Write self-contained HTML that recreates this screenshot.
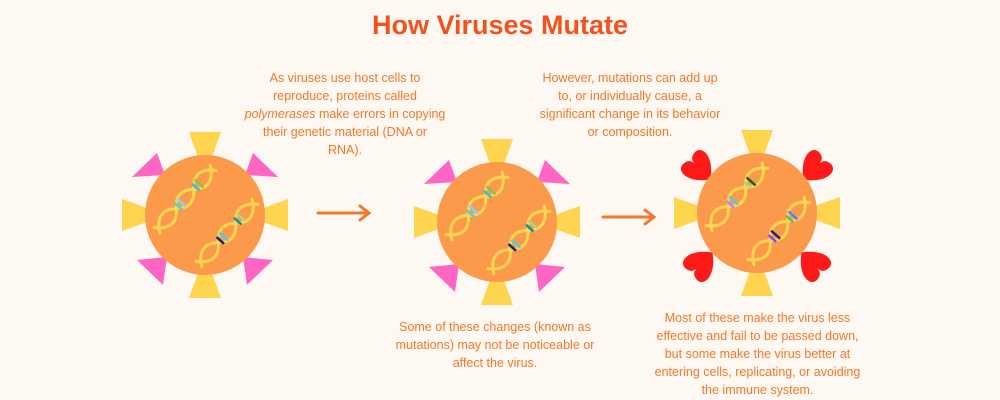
<!DOCTYPE html>
<html><head><meta charset="utf-8"><style>
body{margin:0;width:1000px;height:400px;background:#fdf8f2;overflow:hidden;position:relative;font-family:"Liberation Sans",sans-serif}
.t{position:absolute;color:#f4782a;font-size:12.5px;line-height:18px;text-align:center;white-space:nowrap}
h1{position:absolute;top:10px;left:0;width:1000px;margin:0;text-align:center;color:#f4511e;font-size:27px;font-weight:bold}
svg{position:absolute;left:0;top:0}
</style></head><body>
<svg width="1000" height="400">
<defs>
<g id="dna" fill="none" stroke="#ffd54f" stroke-width="3" stroke-linecap="round">
<path d="M-42,4 Q-39,0 -39,0 Q-26,-14 -13,0 T13,0 T39,0 L42,-4"/>
<path d="M-42,-4 L-39,0 Q-26,14 -13,0 T13,0 T39,0 L42,4"/>
</g>
<g id="virus">
<polygon points="-16,-83 16,-83 7,-58 -7,-58" fill="#ffd54f"/>
<polygon points="-16,83 16,83 7,58 -7,58" fill="#ffd54f"/>
<polygon points="-83,-16 -83,16 -58,7 -58,-7" fill="#ffd54f"/>
<polygon points="83,-16 83,16 58,7 58,-7" fill="#ffd54f"/>
<circle r="60" fill="#fb9a4a"/>
</g>
<g id="pinks" fill="#ff66c4">
<polygon points="-73,-38 -48,-62 -40,-40"/><polygon points="73,-38 48,-62 40,-40"/>
<polygon points="-68,45 -42,70 -38,42"/><polygon points="68,45 42,70 38,42"/>
</g>
<g id="hearts" fill="#ff1a1a">
<path d="M0,8 C-14,-2 -12,-14 -4,-12 C0,-11 0,-8 0,-6 C0,-8 0,-11 4,-12 C12,-14 14,-2 0,8Z" transform="scale(1.5)"/>
</g>
<g id="h1">
<g transform="translate(-20,-16) rotate(-48)"><use href="#dna"/>
<g stroke-width="2.5"><line x1="-10" y1="-5" x2="-10" y2="5" stroke="#4dd0e1"/>
<line x1="-5" y1="-6" x2="-5" y2="6" stroke="#81d4fa"/>
<line x1="16" y1="-5" x2="16" y2="5" stroke="#26c6da"/>
<line x1="21" y1="-6" x2="21" y2="6" stroke="#8bc34a"/></g></g>
<g transform="translate(22,18) rotate(-48)"><use href="#dna"/>
<g stroke-width="2.5"><line x1="-10" y1="-5" x2="-10" y2="5" stroke="#1a237e"/>
<line x1="-5" y1="-6" x2="-5" y2="6" stroke="#4dd0e1"/>
<line x1="16" y1="-5" x2="16" y2="5" stroke="#0097a7"/>
<line x1="21" y1="-6" x2="21" y2="6" stroke="#aed581"/></g></g>
</g>
<g id="h3">
<g transform="translate(-20,-16) rotate(-48)"><use href="#dna"/>
<g stroke-width="2.5"><line x1="-10" y1="-5" x2="-10" y2="5" stroke="#b388ff"/>
<line x1="-5" y1="-6" x2="-5" y2="6" stroke="#4dd0e1"/>
<line x1="16" y1="-5" x2="16" y2="5" stroke="#aed581"/>
<line x1="21" y1="-6" x2="21" y2="6" stroke="#1b5e20"/></g></g>
<g transform="translate(22,18) rotate(-48)"><use href="#dna"/>
<g stroke-width="2.5"><line x1="-10" y1="-5" x2="-10" y2="5" stroke="#7c4dff"/>
<line x1="-5" y1="-6" x2="-5" y2="6" stroke="#1a237e"/>
<line x1="16" y1="-5" x2="16" y2="5" stroke="#66bb6a"/>
<line x1="21" y1="-6" x2="21" y2="6" stroke="#448aff"/></g></g>
</g>
</defs>
<g transform="translate(205,215)"><use href="#pinks"/><use href="#virus"/><use href="#h1"/></g>
<g transform="translate(497,222)"><use href="#pinks"/><use href="#virus"/><use href="#h1"/></g>
<g transform="translate(757,213)">
<use href="#hearts" transform="translate(-55,-42) rotate(-45)"/><use href="#hearts" transform="translate(55,-42) rotate(45)"/>
<use href="#hearts" transform="translate(-53,48) rotate(-135)"/><use href="#hearts" transform="translate(53,48) rotate(135)"/>
<use href="#virus"/><use href="#h3"/></g>
<g stroke="#f4782a" stroke-width="3" fill="none" stroke-linecap="round">
<line x1="318" y1="213" x2="368" y2="213"/><path d="M360,206 L369,213 L360,220"/>
<line x1="603" y1="217" x2="653" y2="217"/><path d="M645,210 L654,217 L645,224"/>
</g>
</svg>
<h1>How Viruses Mutate</h1>
<div class="t" style="left:240px;top:69px;width:210px">As viruses use host cells to<br>reproduce, proteins called<br><i>polymerases</i> make errors in copying<br>their genetic material (DNA or<br>RNA).</div>
<div class="t" style="left:525px;top:69px;width:210px">However, mutations can add up<br>to, or individually cause, a<br>significant change in its behavior<br>or composition.</div>
<div class="t" style="left:395px;top:318px;width:200px">Some of these changes (known as<br>mutations) may not be noticeable or<br>affect the virus.</div>
<div class="t" style="left:650px;top:309px;width:215px">Most of these make the virus less<br>effective and fail to be passed down,<br>but some make the virus better at<br>entering cells, replicating, or avoiding<br>the immune system.</div>
</body></html>
